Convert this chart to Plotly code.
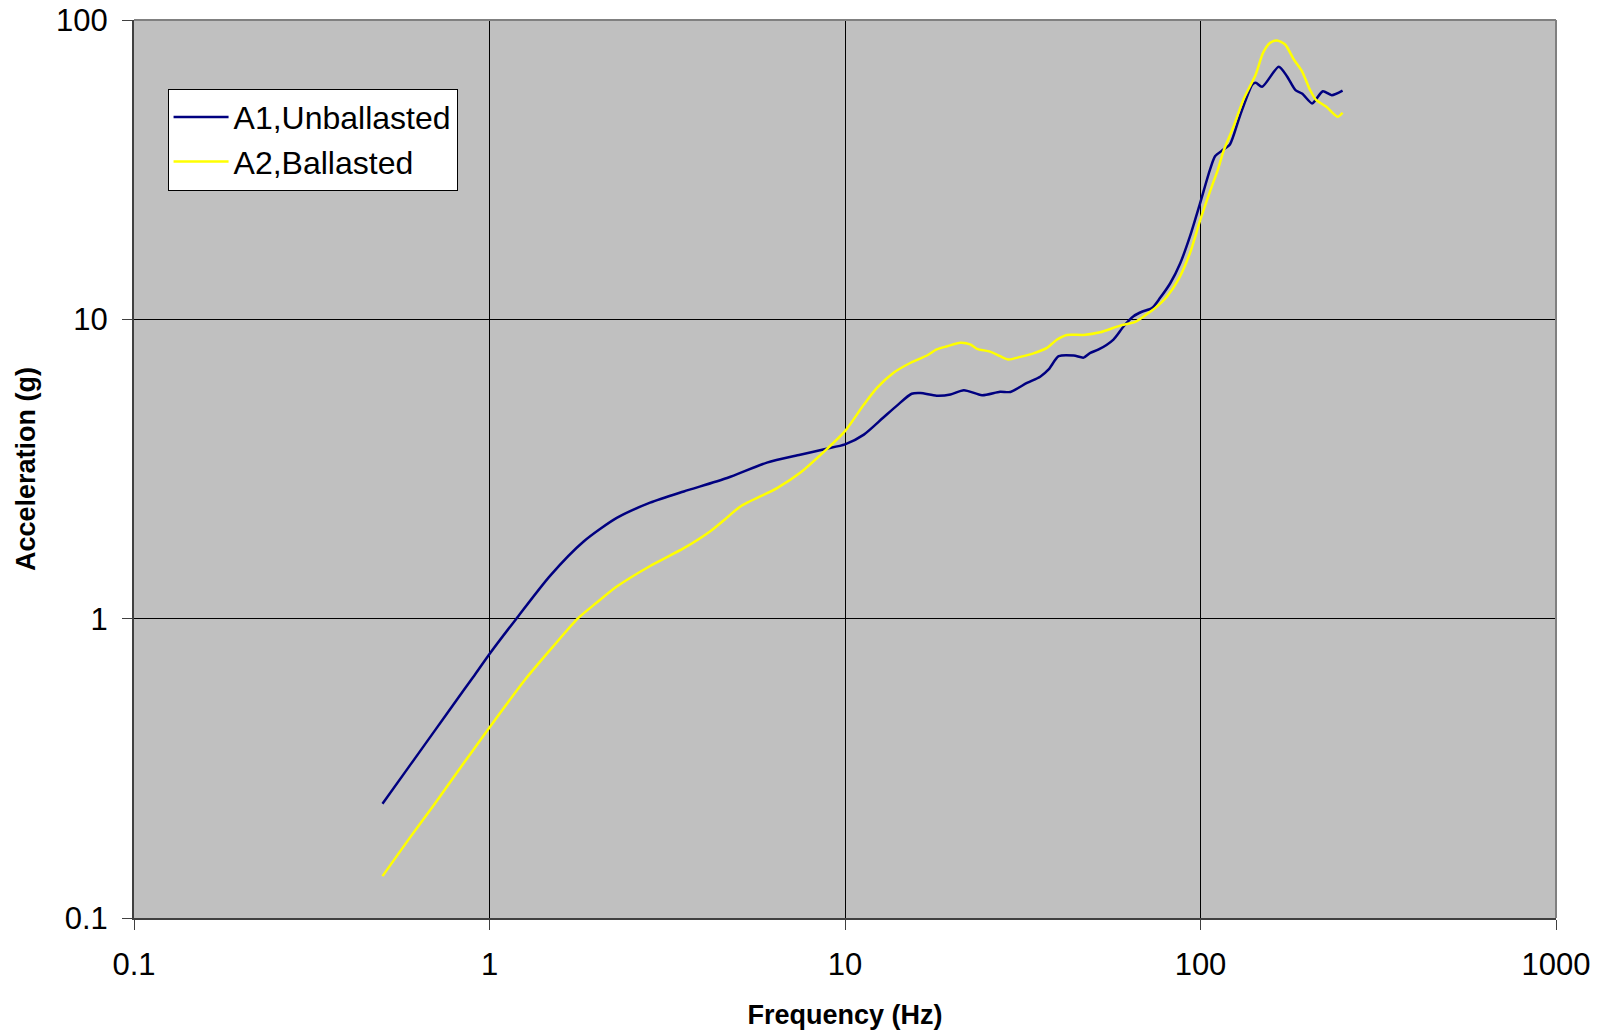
import plotly.graph_objects as go

# Frequency (Hz) and acceleration (g)
freq_a1 = [0.5, 0.6, 0.7, 0.8, 0.9, 1.0, 1.19, 1.48, 1.84, 2.28, 2.83, 3.52, 4.66,
           6.03, 7.48, 8.81, 10.0, 11.3, 12.8, 14.0, 15.4, 16.3, 18.1, 19.8, 21.6, 24.3,
           27.3, 29.2, 32.5, 35.4, 37.4, 39.9, 44.0, 46.9, 49.0, 51.7, 56.9, 60.8, 64.8,
           68.4, 73.0, 77.0, 82.2, 87.7, 93.5, 99.8, 106.4, 110, 116, 121, 129, 140, 143,
           149, 166, 175, 185, 193, 206, 211, 221, 234, 251]
acc_a1 = [0.241, 0.326, 0.421, 0.526, 0.638, 0.762, 1.0, 1.39, 1.81, 2.17, 2.44, 2.66, 2.95,
          3.32, 3.53, 3.69, 3.82, 4.12, 4.69, 5.15, 5.64, 5.67, 5.56, 5.61, 5.80, 5.58,
          5.73, 5.72, 6.13, 6.43, 6.80, 7.53, 7.57, 7.45, 7.73, 7.93, 8.56, 9.48, 10.24,
          10.6, 10.9, 11.8, 13.2, 15.4, 19.0, 24.5, 31.7, 35.1, 36.9, 38.4, 47.7, 60.9, 61.7,
          59.8, 69.8, 64.9, 58.3, 56.8, 52.6, 54.2, 57.8, 56.1, 58.1]

freq_a2 = [0.5, 0.6, 0.7, 0.8, 0.9, 1.0, 1.26, 1.5, 1.77, 2.0, 2.28, 2.83, 3.52, 4.18, 4.6, 5.08,
           6.44, 7.48, 8.9, 10.0, 11.3, 12.3, 13.7, 15.3, 17.0, 18.1, 19.4, 21.1, 22.5,
           23.5, 25.6, 27.3, 28.8, 31.1, 33.9, 37.0, 39.5, 42.1, 46.9, 52.2, 59.4, 65.5,
           70.6, 74.5, 80.4, 86.7, 93.5, 100, 107.6, 112, 116, 124, 132, 143, 150, 157,
           164, 173, 183, 193, 203, 211, 226, 243, 251]
acc_a2 = [0.138, 0.187, 0.24, 0.30, 0.364, 0.433, 0.626, 0.80, 1.0, 1.13, 1.28, 1.50, 1.72, 1.96, 2.15, 2.37,
          2.73, 3.07, 3.69, 4.23, 5.19, 5.90, 6.63, 7.16, 7.57, 7.93, 8.13, 8.35, 8.25,
          7.97, 7.8, 7.53, 7.34, 7.49, 7.7, 8.03, 8.56, 8.87, 8.87, 9.05, 9.53, 9.8,
          10.4, 10.9, 11.9, 13.6, 16.7, 21.6, 27.8, 31.7, 36.4, 44.2, 54.2, 65.8, 77.7, 83.9,
          85.4, 82.8, 73.8, 67.4, 58.6, 54.2, 51.3, 47.5, 49.0]

x_ticks = [0.1, 1, 10, 100, 1000]
x_tick_labels = ["0.1", "1", "10", "100", "1000"]
y_ticks = [0.1, 1, 10, 100]
y_tick_labels = ["0.1", "1", "10", "100"]

FONT = "Liberation Sans, Arial, sans-serif"

fig = go.Figure()
fig.add_trace(go.Scatter(x=freq_a1, y=acc_a1, mode="lines", name="A1,Unballasted",
                         line=dict(color="#000080", width=2.5, shape="spline", smoothing=0.7)))
fig.add_trace(go.Scatter(x=freq_a2, y=acc_a2, mode="lines", name="A2,Ballasted",
                         line=dict(color="#FFFF00", width=2.5, shape="spline", smoothing=0.7)))

fig.update_layout(
    width=1602, height=1035,
    margin=dict(l=134, r=46, t=20, b=117),
    paper_bgcolor="white",
    plot_bgcolor="#C0C0C0",
    font=dict(family=FONT, color="black"),
    showlegend=True,
    legend=dict(x=0.0236, y=0.9235, xanchor="left", yanchor="top",
                bgcolor="white", bordercolor="black", borderwidth=1,
                font=dict(family=FONT, size=32, color="black"),
                tracegroupgap=0, itemwidth=55),
    xaxis=dict(type="log", range=[-1, 3], tickvals=x_ticks, ticktext=x_tick_labels,
               automargin=False,
               showgrid=True, gridcolor="black", gridwidth=1,
               ticks="outside", ticklen=10, tickcolor="#404040", tickwidth=1,
               showline=True, linecolor="#404040", linewidth=2,
               tickfont=dict(family=FONT, size=31, color="black"),
               ticklabelstandoff=8, zeroline=False,
               title=dict(text="<b>Frequency (Hz)</b>", font=dict(family=FONT, size=27, color="black"),
                          standoff=24)),
    yaxis=dict(type="log", range=[-1, 2], tickvals=y_ticks, ticktext=y_tick_labels,
               automargin=False,
               showgrid=True, gridcolor="black", gridwidth=1,
               ticks="outside", ticklen=10, tickcolor="#404040", tickwidth=1,
               showline=True, linecolor="#404040", linewidth=2,
               tickfont=dict(family=FONT, size=31, color="black"),
               ticklabelstandoff=8, zeroline=False,
               title=dict(text="<b>Acceleration (g)</b>", font=dict(family=FONT, size=27, color="black"),
                          standoff=13)),
    shapes=[
        dict(type="line", xref="paper", yref="paper", x0=0, x1=1, y0=1, y1=1,
             line=dict(color="#808080", width=2), layer="above"),
        dict(type="line", xref="paper", yref="paper", x0=1, x1=1, y0=0, y1=1,
             line=dict(color="#808080", width=2), layer="above"),
    ],
)

fig.write_html("out.html")
